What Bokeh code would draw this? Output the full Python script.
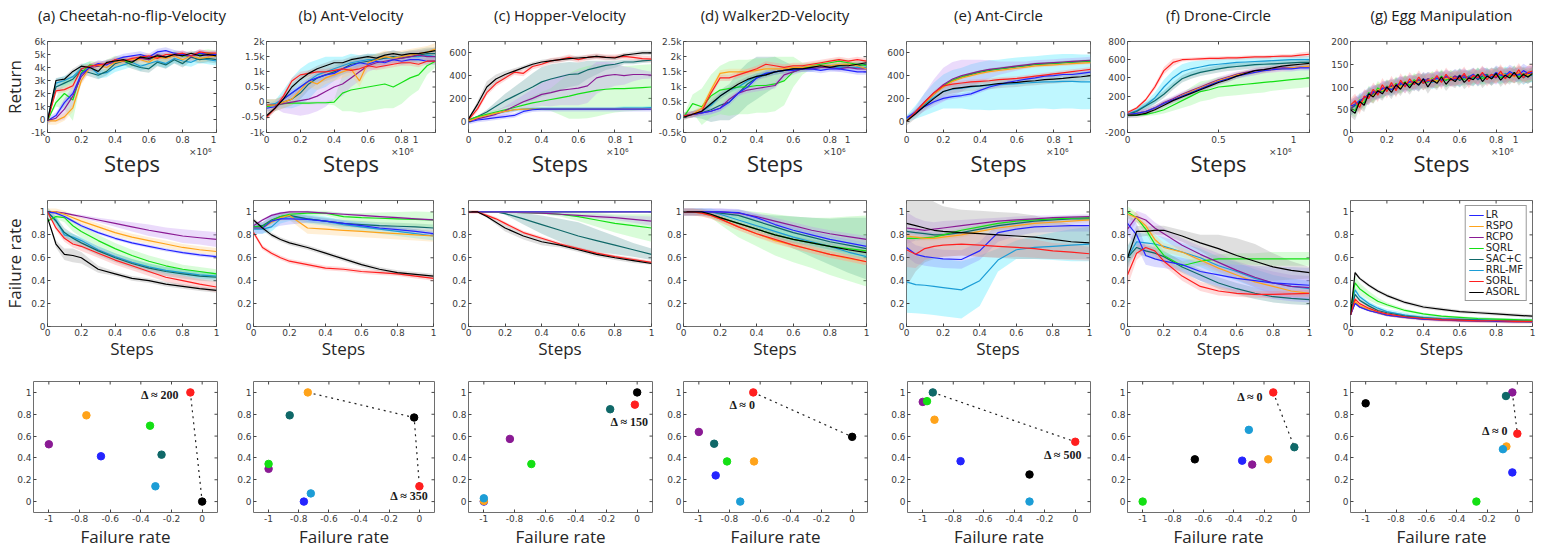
import numpy as np
from bokeh.plotting import figure
from bokeh.layouts import column, row
from bokeh.models import Range1d, FixedTicker, Label, Legend, LegendItem, LinearAxis
from bokeh.embed import file_html
from bokeh.resources import INLINE

SERIES = ["LR", "RSPO", "RCPO", "SQRL", "SAC+C", "RRL-MF", "SORL", "ASORL"]
LINE_COLORS = {"LR": "#2424ff", "RSPO": "#ffa31a", "RCPO": "#8a1a94", "SQRL": "#14e014",
               "SAC+C": "#0f6868", "RRL-MF": "#1c9dd6", "SORL": "#ff1f1f", "ASORL": "#000000"}
BAND_COLORS = {"LR": "#8c8cff", "RSPO": "#ffcc80", "RCPO": "#c28ef2", "SQRL": "#8af58a",
               "SAC+C": "#5f9f9f", "RRL-MF": "#38e6ff", "SORL": "#ff8c8c", "ASORL": "#9a9a9a"}
DRAW_ORDER = ["RRL-MF", "SAC+C", "SQRL", "RCPO", "RSPO", "LR", "SORL", "ASORL"]

TITLES = ["(a) Cheetah-no-flip-Velocity", "(b) Ant-Velocity", "(c) Hopper-Velocity",
          "(d) Walker2D-Velocity", "(e) Ant-Circle", "(f) Drone-Circle", "(g) Egg Manipulation"]

STEPS_21 = [0.0, 0.05, 0.1, 0.15, 0.2, 0.25, 0.3, 0.35, 0.4, 0.45, 0.5, 0.55, 0.6, 0.65, 0.7,
            0.75, 0.8, 0.85, 0.9, 0.95, 1.0]
STEPS_41 = [0.0, 0.025, 0.05, 0.075, 0.1, 0.125, 0.15, 0.175, 0.2, 0.225, 0.25, 0.275, 0.3,
            0.325, 0.35, 0.375, 0.4, 0.425, 0.45, 0.475, 0.5, 0.525, 0.55, 0.575, 0.6, 0.625,
            0.65, 0.675, 0.7, 0.725, 0.75, 0.775, 0.8, 0.825, 0.85, 0.875, 0.9, 0.925, 0.95,
            0.975, 1.0]
STEPS_13 = [0.0, 0.05, 0.1, 0.15, 0.2, 0.3, 0.4, 0.5, 0.6, 0.7, 0.8, 0.9, 1.0]
STEPS_14 = [0.0, 0.025, 0.05, 0.1, 0.15, 0.2, 0.3, 0.4, 0.5, 0.6, 0.7, 0.8, 0.9, 1.0]

# ---------------- Row 1: Return vs steps ----------------
RET_A = {  # thousands
    "LR":     [-0.1, 0.3, 1.3, 2.0, 3.5, 4.0, 4.3, 4.2, 4.6, 4.8, 4.9, 5.0, 4.8, 5.2, 5.3, 5.1, 5.0, 4.9, 5.1, 5.0, 5.0],
    "RSPO":   [-0.1, -0.1, 0.2, 0.9, 3.0, 4.0, 4.2, 4.0, 4.4, 4.5, 4.6, 4.6, 4.4, 4.8, 4.7, 4.9, 4.6, 4.9, 4.7, 4.8, 4.9],
    "RCPO":   [-0.1, 0.1, 0.8, 1.8, 3.3, 4.0, 4.1, 4.3, 4.4, 4.6, 4.5, 4.7, 4.6, 5.0, 4.8, 4.9, 5.0, 4.8, 5.1, 4.9, 5.0],
    "SQRL":   [-0.1, 1.3, 2.0, 1.5, 3.6, 4.2, 4.1, 4.3, 4.5, 4.5, 4.4, 4.8, 4.6, 4.9, 4.8, 5.0, 4.9, 4.9, 5.0, 5.1, 5.0],
    "SAC+C":  [-0.1, 2.5, 2.8, 3.1, 3.8, 3.6, 3.4, 3.7, 4.3, 4.5, 4.2, 4.0, 3.9, 4.4, 4.2, 4.6, 4.3, 4.8, 4.6, 4.7, 4.6],
    "RRL-MF": [-0.1, 2.8, 3.0, 3.3, 3.9, 4.1, 3.5, 3.6, 4.0, 4.2, 4.4, 4.1, 4.3, 4.5, 4.3, 4.7, 4.5, 4.4, 4.7, 4.6, 4.5],
    "SORL":   [-0.1, 2.2, 2.3, 2.6, 3.9, 4.1, 4.2, 4.3, 4.6, 4.5, 4.7, 4.8, 4.9, 4.7, 5.0, 5.0, 5.1, 4.9, 5.2, 5.1, 5.1],
    "ASORL":  [-0.1, 3.0, 3.1, 3.7, 4.1, 4.0, 3.7, 4.4, 4.5, 4.6, 4.4, 4.8, 4.7, 4.9, 4.8, 5.0, 4.9, 5.1, 4.9, 5.0, 4.9],
}
RET_B = {  # thousands
    "LR":     [-0.2, -0.15, 0.1, 0.3, 0.5, 0.7, 0.8, 0.9, 0.95, 1.1, 1.2, 1.3, 1.25, 1.35, 1.3, 1.4, 1.35, 1.4, 1.4, 1.35, 1.35],
    "RSPO":   [-0.1, -0.1, 0.0, 0.1, 0.4, 0.7, 0.6, 0.8, 0.9, 1.0, 1.1, 0.7, 1.3, 1.4, 1.5, 1.45, 1.5, 1.55, 1.6, 1.65, 1.75],
    "RCPO":   [-0.1, -0.1, -0.05, 0.0, 0.05, 0.1, 0.2, 0.35, 0.5, 0.6, 0.8, 1.0, 1.2, 1.3, 1.35, 1.4, 1.45, 1.5, 1.55, 1.5, 1.5],
    "SQRL":   [-0.15, -0.1, -0.05, -0.03, -0.03, -0.03, -0.02, -0.02, 0.0, 0.3, 0.4, 0.45, 0.5, 0.55, 0.6, 0.5, 0.65, 0.8, 0.9, 1.2, 1.35],
    "SAC+C":  [-0.1, -0.1, 0.0, 0.1, 0.3, 0.6, 0.8, 0.9, 1.0, 1.1, 1.25, 1.3, 1.35, 1.4, 1.45, 1.5, 1.45, 1.5, 1.55, 1.6, 1.6],
    "RRL-MF": [-0.1, -0.05, 0.1, 0.3, 0.5, 0.7, 0.9, 1.0, 1.1, 1.2, 1.3, 1.35, 1.4, 1.4, 1.45, 1.45, 1.5, 1.5, 1.5, 1.55, 1.5],
    "SORL":   [-0.5, -0.2, 0.2, 0.7, 0.9, 0.95, 1.0, 1.0, 1.05, 1.1, 1.05, 1.1, 1.2, 1.15, 1.2, 1.25, 1.3, 1.3, 1.25, 1.35, 1.35],
    "ASORL":  [-0.45, -0.2, 0.1, 0.5, 0.75, 0.95, 1.1, 1.2, 1.3, 1.3, 1.4, 1.45, 1.5, 1.45, 1.55, 1.6, 1.55, 1.6, 1.6, 1.65, 1.7],
}
RET_C = {
    "LR":     [-10, 10, 20, 30, 40, 50, 85, 100, 105, 105, 105, 105, 105, 105, 105, 105, 105, 105, 105, 105, 105],
    "RSPO":   [0, 30, 50, 70, 85, 100, 105, 105, 105, 105, 105, 105, 105, 105, 105, 105, 105, 105, 105, 105, 105],
    "RCPO":   [0, 20, 40, 60, 90, 130, 170, 200, 235, 250, 270, 280, 290, 310, 380, 400, 410, 400, 410, 410, 405],
    "SQRL":   [10, 40, 60, 80, 100, 120, 140, 160, 175, 190, 205, 220, 240, 255, 270, 280, 285, 285, 290, 295, 300],
    "SAC+C":  [10, 40, 80, 130, 180, 220, 260, 300, 345, 370, 390, 410, 415, 450, 470, 490, 500, 520, 520, 530, 535],
    "RRL-MF": [0, 30, 50, 70, 85, 100, 105, 110, 110, 110, 110, 110, 110, 110, 110, 110, 110, 115, 115, 115, 120],
    "SORL":   [10, 110, 250, 330, 380, 430, 420, 480, 500, 530, 540, 560, 540, 560, 570, 560, 560, 570, 560, 550, 545],
    "ASORL":  [20, 150, 300, 370, 410, 440, 470, 500, 520, 530, 540, 550, 555, 560, 570, 560, 555, 580, 590, 600, 600],
}
RET_D = {  # thousands
    "LR":     [0.05, 0.1, 0.15, 0.2, 0.3, 0.5, 0.8, 1.0, 1.3, 1.45, 1.5, 1.55, 1.55, 1.6, 1.6, 1.55, 1.6, 1.6, 1.55, 1.5, 1.5],
    "RSPO":   [0.05, 0.1, 0.3, 0.9, 1.45, 1.5, 1.5, 1.5, 1.55, 1.6, 1.6, 1.6, 1.65, 1.65, 1.7, 1.7, 1.7, 1.75, 1.75, 1.7, 1.6],
    "RCPO":   [0.05, 0.1, 0.15, 0.2, 0.3, 0.6, 0.8, 0.9, 0.95, 1.0, 1.05, 1.4, 1.5, 1.6, 1.6, 1.65, 1.65, 1.6, 1.65, 1.6, 1.6],
    "SQRL":   [0.0, 0.45, 0.35, 0.7, 0.9, 0.95, 1.0, 1.0, 1.05, 1.05, 1.1, 1.2, 1.5, 1.6, 1.7, 1.75, 1.8, 1.85, 1.8, 1.75, 1.7],
    "SAC+C":  [0.05, 0.1, 0.15, 0.25, 0.4, 0.5, 0.8, 1.1, 1.3, 1.4, 1.5, 1.55, 1.6, 1.65, 1.65, 1.7, 1.7, 1.7, 1.75, 1.7, 1.75],
    "RRL-MF": [0.05, 0.1, 0.2, 0.4, 0.7, 0.9, 1.0, 1.2, 1.35, 1.45, 1.5, 1.55, 1.6, 1.6, 1.6, 1.65, 1.65, 1.65, 1.65, 1.65, 1.65],
    "SORL":   [0.05, 0.1, 0.2, 0.8, 1.3, 1.3, 1.4, 1.5, 1.6, 1.75, 1.7, 1.65, 1.7, 1.7, 1.75, 1.8, 1.85, 1.9, 1.85, 1.9, 1.85],
    "ASORL":  [0.0, 0.1, 0.2, 0.45, 0.7, 0.9, 1.1, 1.25, 1.35, 1.4, 1.5, 1.55, 1.6, 1.6, 1.65, 1.7, 1.65, 1.7, 1.7, 1.75, 1.8],
}
RET_E = {
    "LR":     [30, 80, 130, 170, 200, 215, 225, 240, 270, 300, 320, 340, 355, 370, 380, 395, 400, 410, 410, 420, 430],
    "RSPO":   [0, 80, 160, 240, 300, 350, 380, 400, 420, 435, 445, 455, 465, 475, 485, 490, 495, 500, 505, 510, 515],
    "RCPO":   [0, 85, 170, 250, 320, 370, 400, 420, 440, 455, 465, 475, 485, 495, 505, 510, 515, 520, 525, 530, 535],
    "SQRL":   [0, 80, 165, 245, 310, 360, 390, 415, 435, 450, 460, 470, 480, 490, 500, 505, 510, 515, 520, 525, 530],
    "SAC+C":  [0, 80, 160, 240, 305, 355, 385, 410, 430, 445, 458, 468, 478, 488, 498, 503, 508, 513, 518, 523, 528],
    "RRL-MF": [20, 80, 150, 210, 260, 280, 290, 300, 310, 315, 320, 325, 330, 335, 340, 345, 345, 350, 350, 345, 345],
    "SORL":   [0, 80, 170, 250, 310, 325, 335, 345, 350, 355, 365, 370, 375, 385, 395, 405, 415, 425, 435, 445, 455],
    "ASORL":  [0, 65, 135, 200, 260, 285, 295, 305, 310, 320, 330, 335, 340, 350, 355, 365, 370, 375, 385, 390, 400],
}
RET_F = {
    "LR":     [0, 10, 30, 70, 120, 160, 200, 240, 280, 320, 360, 390, 420, 440, 460, 480, 490, 500, 500, 510, 510],
    "RSPO":   [0, 10, 30, 70, 120, 160, 210, 250, 290, 330, 370, 400, 430, 450, 460, 480, 490, 500, 510, 520, 530],
    "RCPO":   [0, 10, 30, 70, 130, 170, 220, 260, 300, 340, 380, 410, 440, 460, 480, 490, 500, 510, 510, 520, 520],
    "SQRL":   [-10, -10, 0, 20, 50, 100, 150, 200, 250, 270, 300, 310, 320, 330, 340, 350, 360, 370, 380, 390, 400],
    "SAC+C":  [0, 30, 90, 150, 220, 310, 390, 430, 460, 480, 500, 515, 525, 535, 545, 550, 555, 560, 565, 570, 570],
    "RRL-MF": [0, 40, 100, 180, 300, 400, 470, 500, 520, 540, 550, 560, 570, 575, 580, 585, 590, 595, 600, 600, 600],
    "SORL":   [20, 70, 160, 300, 480, 570, 600, 605, 610, 615, 615, 620, 620, 625, 630, 630, 635, 640, 640, 650, 660],
    "ASORL":  [-10, -10, 10, 50, 100, 150, 190, 230, 270, 310, 350, 380, 420, 450, 480, 490, 510, 530, 540, 550, 560],
}
RET_G = {
    "LR":     [58, 62, 70, 76, 84, 90, 88, 96, 100, 94, 104, 108, 102, 112, 110, 106, 118, 112, 116, 120, 114,
               124, 118, 116, 126, 120, 122, 128, 118, 130, 124, 122, 132, 126, 124, 134, 128, 126, 136, 130, 132],
    "RSPO":   [56, 64, 60, 74, 82, 80, 94, 92, 100, 98, 106, 100, 110, 108, 112, 110, 116, 114, 118, 112, 120,
               118, 122, 116, 124, 120, 122, 126, 120, 128, 122, 126, 124, 130, 126, 128, 122, 132, 128, 126, 130],
    "RCPO":   [50, 66, 62, 78, 76, 88, 86, 98, 96, 104, 100, 110, 106, 112, 108, 116, 112, 118, 114, 120, 116,
               122, 118, 124, 120, 126, 118, 124, 122, 128, 124, 126, 120, 130, 126, 128, 124, 132, 128, 130, 131],
    "SQRL":   [55, 48, 72, 65, 88, 80, 98, 90, 102, 94, 108, 100, 112, 104, 116, 108, 114, 110, 120, 112, 124,
               114, 122, 118, 126, 116, 124, 120, 128, 118, 126, 122, 130, 120, 128, 124, 132, 122, 130, 126, 128],
    "SAC+C":  [52, 60, 66, 74, 80, 86, 92, 90, 98, 102, 96, 106, 110, 104, 112, 116, 108, 118, 114, 112, 120,
               116, 118, 124, 114, 122, 120, 126, 116, 124, 128, 118, 126, 130, 120, 128, 124, 130, 126, 122, 128],
    "RRL-MF": [54, 58, 64, 72, 78, 84, 90, 94, 96, 100, 104, 102, 108, 110, 106, 114, 112, 116, 110, 118, 120,
               114, 122, 118, 116, 124, 120, 118, 126, 122, 120, 128, 124, 122, 130, 126, 124, 128, 120, 126, 125],
    "SORL":   [60, 70, 55, 80, 75, 95, 82, 105, 90, 110, 92, 115, 100, 118, 105, 122, 108, 115, 112, 125, 110,
               128, 115, 120, 118, 130, 112, 126, 120, 132, 116, 128, 122, 135, 118, 130, 124, 138, 120, 132, 135],
    "ASORL":  [50, 42, 68, 60, 85, 78, 92, 85, 100, 88, 105, 95, 110, 98, 112, 104, 118, 100, 115, 108, 122,
               106, 118, 112, 125, 110, 120, 116, 128, 112, 124, 118, 130, 115, 126, 120, 132, 118, 128, 122, 130],
}

RET_SPREAD_A = {"LR": 0.25, "RSPO": 0.3,
                "RCPO": [0, 0.3, 0.8, 0.8, 0.5, 0.3, 0.3, 0.3, 0.3, 0.3, 0.3, 0.3, 0.3, 0.3, 0.3, 0.3, 0.3, 0.3, 0.3, 0.3, 0.3],
                "SQRL": [0, 0.3, 1.2, 1.6, 0.6, 0.3, 0.3, 0.3, 0.4, 0.3, 0.3, 0.3, 0.3, 0.3, 0.3, 0.3, 0.3, 0.3, 0.3, 0.3, 0.3],
                "SAC+C": 0.3, "RRL-MF": 0.35, "SORL": 0.2, "ASORL": 0.2}
RET_SPREAD_B = {"LR": 0.12, "RSPO": 0.2,
                "RCPO": [0.05, 0.1, 0.3, 0.4, 0.5, 0.5, 0.5, 0.5, 0.4, 0.4, 0.3, 0.3, 0.2, 0.2, 0.2, 0.15, 0.15, 0.15, 0.15, 0.15, 0.15],
                "SQRL": [0.05, 0.05, 0.05, 0.05, 0.05, 0.05, 0.05, 0.05, 0.1, 0.6, 0.7, 0.8, 0.8, 0.8, 0.8, 0.7, 0.7, 0.6, 0.5, 0.3, 0.2],
                "SAC+C": 0.2,
                "RRL-MF": [0.05, 0.1, 0.3, 0.5, 0.6, 0.6, 0.5, 0.5, 0.4, 0.3, 0.3, 0.2, 0.2, 0.2, 0.15, 0.15, 0.15, 0.15, 0.15, 0.15, 0.15],
                "SORL": 0.1, "ASORL": 0.1}
RET_SPREAD_C = {"LR": 20, "RSPO": 10,
                "RCPO": [5, 10, 20, 30, 40, 50, 60, 80, 100, 120, 130, 140, 150, 150, 140, 120, 100, 80, 60, 40, 30],
                "SQRL": [5, 10, 15, 20, 25, 30, 40, 60, 80, 100, 150, 200, 220, 230, 230, 220, 210, 200, 200, 200, 200],
                "SAC+C": [5, 10, 20, 40, 60, 80, 100, 120, 130, 130, 120, 110, 100, 80, 60, 40, 30, 20, 20, 20, 20],
                "RRL-MF": 15, "SORL": 25,
                "ASORL": [5, 30, 50, 40, 30, 25, 20, 20, 20, 20, 20, 20, 20, 20, 20, 20, 20, 20, 20, 20, 20]}
RET_SPREAD_D = {"LR": 0.1, "RSPO": 0.1, "RCPO": 0.1,
                "SQRL": [0.05, 0.3, 0.6, 0.7, 0.8, 0.9, 0.9, 0.9, 0.9, 0.9, 0.9, 0.8, 0.5, 0.2, 0.1, 0.1, 0.1, 0.1, 0.1, 0.1, 0.1],
                "SAC+C": [0.05, 0.1, 0.2, 0.4, 0.5, 0.6, 0.7, 0.7, 0.7, 0.6, 0.5, 0.3, 0.1, 0.1, 0.1, 0.1, 0.1, 0.1, 0.1, 0.1, 0.1],
                "RRL-MF": 0.1, "SORL": 0.1, "ASORL": 0.1}
RET_SPREAD_E = {"LR": 20, "RSPO": 15,
                "RCPO": [10, 40, 80, 120, 150, 150, 140, 120, 100, 80, 60, 50, 40, 30, 30, 30, 30, 30, 30, 30, 30],
                "SQRL": 15, "SAC+C": 15,
                "RRL-MF": [30, 60, 100, 130, 150, 170, 180, 200, 210, 220, 220, 225, 230, 230, 230, 235, 240, 240, 240, 240, 240],
                "SORL": 20, "ASORL": 40}
RET_SPREAD_F = {"LR": 30, "RSPO": 30, "RCPO": 30,
                "SQRL": [10, 10, 20, 30, 40, 60, 80, 100, 110, 110, 110, 110, 110, 110, 110, 110, 100, 100, 100, 100, 100],
                "SAC+C": 40,
                "RRL-MF": [10, 20, 40, 60, 80, 80, 80, 80, 70, 60, 60, 50, 50, 50, 50, 50, 50, 40, 40, 40, 40],
                "SORL": [10, 15, 20, 30, 40, 40, 20, 20, 20, 20, 20, 20, 20, 20, 20, 20, 20, 20, 20, 30, 30],
                "ASORL": 30}
RET_SPREAD_G = {"LR": 15, "RSPO": 15, "RCPO": 15, "SQRL": 15, "SAC+C": 15, "RRL-MF": 15, "SORL": 15, "ASORL": 15}

RET_DATA = [RET_A, RET_B, RET_C, RET_D, RET_E, RET_F, RET_G]
RET_SPREADS = [RET_SPREAD_A, RET_SPREAD_B, RET_SPREAD_C, RET_SPREAD_D, RET_SPREAD_E, RET_SPREAD_F, RET_SPREAD_G]
RET_STEPS = [STEPS_21, STEPS_21, STEPS_21, STEPS_21, STEPS_21, STEPS_21, STEPS_41]
RET_YRANGE = [(-1, 6), (-1, 2), (-100, 700), (-0.5, 2.5), (-100, 700), (-200, 800), (0, 200)]
RET_YTICKS = [[-1, 0, 1, 2, 3, 4, 5, 6], [-1, -0.5, 0, 0.5, 1, 1.5, 2], [0, 200, 400, 600],
              [-0.5, 0, 0.5, 1, 1.5, 2, 2.5], [0, 200, 400, 600], [-200, 0, 200, 400, 600, 800],
              [0, 50, 100, 150, 200]]
RET_YLABELS = [["-1k", "0", "1k", "2k", "3k", "4k", "5k", "6k"],
               ["-1k", "-0.5k", "0", "0.5k", "1k", "1.5k", "2k"],
               ["0", "200", "400", "600"],
               ["-0.5k", "0", "0.5k", "1k", "1.5k", "2k", "2.5k"],
               ["0", "200", "400", "600"],
               ["-200", "0", "200", "400", "600", "800"],
               ["0", "50", "100", "150", "200"]]
STEP_SCALE = "×10⁶"
STEP_TICKS = [0, 0.2, 0.4, 0.6, 0.8, 1]
STEP_LABELS = ["0", "0.2", "0.4", "0.6", "0.8", "1"]
HALF_TICKS = [0, 0.5, 1]
HALF_LABELS = ["0", "0.5", "1"]

# ---------------- Row 2: Failure rate vs steps ----------------
FR_A = {
    "LR":     [1.0, 0.99, 0.96, 0.92, 0.88, 0.82, 0.77, 0.73, 0.70, 0.67, 0.645, 0.625, 0.61],
    "RSPO":   [1.0, 1.0, 0.98, 0.95, 0.92, 0.87, 0.82, 0.78, 0.75, 0.72, 0.69, 0.67, 0.655],
    "RCPO":   [1.0, 1.0, 0.99, 0.975, 0.96, 0.93, 0.90, 0.87, 0.84, 0.815, 0.79, 0.775, 0.76],
    "SQRL":   [0.92, 0.96, 0.95, 0.88, 0.83, 0.75, 0.68, 0.62, 0.57, 0.53, 0.50, 0.48, 0.46],
    "SAC+C":  [1.0, 0.92, 0.82, 0.77, 0.73, 0.66, 0.60, 0.55, 0.51, 0.48, 0.46, 0.44, 0.43],
    "RRL-MF": [1.0, 0.93, 0.80, 0.78, 0.75, 0.67, 0.61, 0.56, 0.52, 0.49, 0.47, 0.45, 0.44],
    "SORL":   [1.0, 0.86, 0.77, 0.72, 0.70, 0.64, 0.58, 0.53, 0.48, 0.43, 0.40, 0.37, 0.345],
    "ASORL":  [0.95, 0.72, 0.63, 0.62, 0.60, 0.50, 0.46, 0.42, 0.40, 0.37, 0.35, 0.33, 0.315],
}
FR_B = {
    "LR":     [0.86, 0.86, 0.92, 0.94, 0.94, 0.935, 0.92, 0.90, 0.88, 0.86, 0.845, 0.83, 0.81],
    "RSPO":   [0.86, 0.86, 0.91, 0.95, 0.97, 0.86, 0.85, 0.84, 0.83, 0.82, 0.81, 0.80, 0.79],
    "RCPO":   [0.88, 0.93, 0.97, 0.99, 1.0, 1.0, 0.99, 0.98, 0.97, 0.96, 0.95, 0.94, 0.93],
    "SQRL":   [0.87, 0.87, 0.92, 0.96, 0.98, 0.99, 0.99, 0.96, 0.95, 0.945, 0.94, 0.935, 0.93],
    "SAC+C":  [0.87, 0.88, 0.93, 0.96, 0.97, 0.94, 0.92, 0.90, 0.89, 0.88, 0.875, 0.87, 0.86],
    "RRL-MF": [0.85, 0.85, 0.87, 0.94, 0.96, 0.94, 0.92, 0.89, 0.87, 0.85, 0.83, 0.81, 0.79],
    "SORL":   [0.82, 0.69, 0.64, 0.60, 0.57, 0.54, 0.51, 0.50, 0.48, 0.47, 0.46, 0.44, 0.42],
    "ASORL":  [0.93, 0.86, 0.80, 0.76, 0.73, 0.69, 0.64, 0.59, 0.54, 0.50, 0.47, 0.455, 0.44],
}
FR_C = {
    "LR":     [1.0, 1.0, 1.0, 1.0, 1.0, 1.0, 1.0, 1.0, 1.0, 1.0, 1.0, 1.0, 1.0],
    "RSPO":   [1.0, 1.0, 1.0, 1.0, 1.0, 1.0, 1.0, 1.0, 1.0, 1.0, 1.0, 1.0, 1.0],
    "RCPO":   [1.0, 1.0, 1.0, 1.0, 1.0, 0.995, 0.99, 0.98, 0.97, 0.96, 0.95, 0.935, 0.92],
    "SQRL":   [1.0, 1.0, 1.0, 1.0, 1.0, 0.995, 0.99, 0.98, 0.96, 0.93, 0.90, 0.88, 0.86],
    "SAC+C":  [1.0, 1.0, 1.0, 1.0, 0.985, 0.94, 0.89, 0.84, 0.79, 0.75, 0.71, 0.67, 0.63],
    "RRL-MF": [1.0, 1.0, 1.0, 1.0, 1.0, 1.0, 1.0, 1.0, 1.0, 1.0, 1.0, 1.0, 1.0],
    "SORL":   [1.0, 1.0, 0.97, 0.94, 0.90, 0.82, 0.77, 0.72, 0.68, 0.64, 0.61, 0.585, 0.56],
    "ASORL":  [1.0, 1.0, 0.96, 0.91, 0.86, 0.79, 0.74, 0.71, 0.67, 0.63, 0.60, 0.575, 0.55],
}
FR_D = {
    "LR":     [1.0, 1.0, 1.0, 1.0, 1.0, 0.995, 0.95, 0.89, 0.84, 0.80, 0.76, 0.73, 0.70],
    "RSPO":   [1.0, 1.0, 0.99, 0.97, 0.94, 0.87, 0.81, 0.75, 0.71, 0.67, 0.63, 0.595, 0.565],
    "RCPO":   [1.0, 1.0, 1.0, 1.0, 1.0, 0.99, 0.96, 0.92, 0.88, 0.84, 0.81, 0.785, 0.76],
    "SQRL":   [1.0, 1.0, 1.0, 0.98, 0.95, 0.90, 0.85, 0.80, 0.76, 0.73, 0.70, 0.68, 0.66],
    "SAC+C":  [1.0, 1.0, 1.0, 1.0, 0.99, 0.97, 0.92, 0.87, 0.82, 0.78, 0.74, 0.71, 0.68],
    "RRL-MF": [1.0, 1.0, 1.0, 1.0, 0.98, 0.93, 0.88, 0.83, 0.78, 0.74, 0.70, 0.65, 0.61],
    "SORL":   [1.0, 1.0, 0.99, 0.97, 0.94, 0.87, 0.81, 0.76, 0.71, 0.67, 0.63, 0.60, 0.565],
    "ASORL":  [1.0, 1.0, 1.0, 0.98, 0.95, 0.90, 0.85, 0.80, 0.76, 0.73, 0.70, 0.67, 0.645],
}
FR_E = {
    "LR":     [0.69, 0.63, 0.61, 0.60, 0.59, 0.585, 0.66, 0.82, 0.85, 0.87, 0.875, 0.88, 0.88],
    "RSPO":   [0.79, 0.78, 0.77, 0.77, 0.78, 0.80, 0.83, 0.86, 0.88, 0.90, 0.91, 0.92, 0.93],
    "RCPO":   [0.86, 0.85, 0.84, 0.85, 0.86, 0.88, 0.90, 0.92, 0.93, 0.94, 0.95, 0.955, 0.96],
    "SQRL":   [0.77, 0.77, 0.775, 0.78, 0.80, 0.84, 0.87, 0.90, 0.92, 0.93, 0.94, 0.945, 0.95],
    "SAC+C":  [0.83, 0.82, 0.81, 0.80, 0.80, 0.82, 0.85, 0.88, 0.90, 0.92, 0.93, 0.94, 0.94],
    "RRL-MF": [0.39, 0.365, 0.36, 0.35, 0.34, 0.32, 0.40, 0.58, 0.67, 0.69, 0.70, 0.71, 0.72],
    "SORL":   [0.67, 0.63, 0.68, 0.70, 0.71, 0.72, 0.71, 0.70, 0.69, 0.68, 0.66, 0.65, 0.635],
    "ASORL":  [0.90, 0.88, 0.86, 0.84, 0.83, 0.82, 0.81, 0.80, 0.79, 0.78, 0.76, 0.74, 0.73],
}
FR_F = {
    "LR":     [0.90, 0.80, 0.62, 0.59, 0.57, 0.54, 0.48, 0.45, 0.42, 0.40, 0.38, 0.37, 0.36],
    "RSPO":   [0.98, 0.95, 0.88, 0.76, 0.69, 0.65, 0.58, 0.51, 0.45, 0.39, 0.35, 0.31, 0.29],
    "RCPO":   [0.85, 0.96, 0.93, 0.86, 0.81, 0.71, 0.63, 0.56, 0.49, 0.43, 0.38, 0.35, 0.34],
    "SQRL":   [1.0, 0.95, 0.85, 0.72, 0.62, 0.53, 0.57, 0.59, 0.59, 0.59, 0.59, 0.59, 0.59],
    "SAC+C":  [0.60, 0.69, 0.66, 0.64, 0.61, 0.52, 0.45, 0.38, 0.33, 0.29, 0.26, 0.245, 0.235],
    "RRL-MF": [0.60, 0.74, 0.73, 0.72, 0.70, 0.65, 0.60, 0.53, 0.48, 0.42, 0.38, 0.35, 0.33],
    "SORL":   [0.45, 0.64, 0.69, 0.66, 0.57, 0.44, 0.35, 0.31, 0.29, 0.28, 0.28, 0.285, 0.29],
    "ASORL":  [0.60, 0.83, 0.83, 0.84, 0.84, 0.79, 0.73, 0.68, 0.62, 0.57, 0.52, 0.49, 0.47],
}
FR_G = {
    "LR":     [0.10, 0.20, 0.17, 0.14, 0.12, 0.10, 0.08, 0.065, 0.06, 0.05, 0.05, 0.045, 0.045, 0.04],
    "RSPO":   [0.10, 0.22, 0.18, 0.15, 0.12, 0.10, 0.08, 0.07, 0.06, 0.05, 0.05, 0.045, 0.045, 0.04],
    "RCPO":   [0.10, 0.21, 0.17, 0.14, 0.12, 0.10, 0.08, 0.065, 0.055, 0.05, 0.045, 0.045, 0.04, 0.04],
    "SQRL":   [0.15, 0.38, 0.33, 0.27, 0.22, 0.19, 0.14, 0.11, 0.09, 0.08, 0.07, 0.065, 0.06, 0.055],
    "SAC+C":  [0.10, 0.28, 0.23, 0.18, 0.14, 0.12, 0.09, 0.075, 0.065, 0.06, 0.055, 0.05, 0.05, 0.045],
    "RRL-MF": [0.10, 0.32, 0.26, 0.20, 0.16, 0.13, 0.10, 0.08, 0.07, 0.065, 0.06, 0.055, 0.05, 0.05],
    "SORL":   [0.10, 0.24, 0.20, 0.16, 0.13, 0.11, 0.085, 0.07, 0.06, 0.055, 0.05, 0.05, 0.045, 0.045],
    "ASORL":  [0.10, 0.47, 0.42, 0.36, 0.31, 0.27, 0.21, 0.17, 0.15, 0.13, 0.12, 0.11, 0.10, 0.09],
}

FR_SPREAD_A = {"LR": 0.015, "RSPO": 0.03,
               "RCPO": [0, 0, 0.005, 0.01, 0.015, 0.02, 0.03, 0.04, 0.05, 0.05, 0.06, 0.06, 0.065],
               "SQRL": [0, 0.02, 0.04, 0.05, 0.05, 0.05, 0.05, 0.05, 0.05, 0.05, 0.04, 0.04, 0.04],
               "SAC+C": 0.04, "RRL-MF": 0.03,
               "SORL": [0, 0.02, 0.03, 0.03, 0.04, 0.04, 0.04, 0.04, 0.04, 0.04, 0.045, 0.045, 0.045],
               "ASORL": [0, 0.03, 0.05, 0.06, 0.05, 0.03, 0.02, 0.02, 0.02, 0.02, 0.02, 0.02, 0.02]}
FR_SPREAD_B = {"LR": [0.05, 0.05, 0.06, 0.06, 0.05, 0.03, 0.02, 0.02, 0.02, 0.02, 0.02, 0.02, 0.02],
               "RSPO": [0, 0, 0.02, 0.03, 0.04, 0.05, 0.05, 0.05, 0.05, 0.05, 0.05, 0.05, 0.05],
               "RCPO": 0.01,
               "SQRL": [0.02, 0.02, 0.02, 0.02, 0.02, 0.02, 0.02, 0.03, 0.04, 0.05, 0.06, 0.07, 0.07],
               "SAC+C": 0.03, "RRL-MF": 0.04, "SORL": 0.02, "ASORL": 0.02}
FR_SPREAD_C = {"LR": 0, "RSPO": 0,
               "RCPO": [0, 0, 0, 0, 0, 0, 0, 0.01, 0.01, 0.02, 0.02, 0.03, 0.04],
               "SQRL": [0, 0, 0, 0, 0, 0, 0.01, 0.02, 0.04, 0.06, 0.08, 0.10, 0.12],
               "SAC+C": [0, 0, 0, 0, 0.01, 0.05, 0.08, 0.10, 0.12, 0.10, 0.08, 0.06, 0.05],
               "RRL-MF": 0, "SORL": 0.015,
               "ASORL": [0, 0, 0.01, 0.02, 0.03, 0.03, 0.03, 0.02, 0.02, 0.02, 0.02, 0.02, 0.01]}
FR_SPREAD_D = {"LR": 0.03, "RSPO": 0.03, "RCPO": 0.03,
               "SQRL": [0, 0, 0.01, 0.03, 0.06, 0.12, 0.15, 0.18, 0.20, 0.22, 0.25, 0.28, 0.31],
               "SAC+C": [0, 0, 0, 0, 0.01, 0.03, 0.06, 0.10, 0.14, 0.17, 0.20, 0.24, 0.27],
               "RRL-MF": 0.03, "SORL": 0.03, "ASORL": 0.03}
FR_SPREAD_E = {"LR": [0.08, 0.08, 0.08, 0.08, 0.08, 0.08, 0.08, 0.08, 0.06, 0.05, 0.05, 0.05, 0.05],
               "RSPO": 0.02,
               "RCPO": [0.14, 0.10, 0.08, 0.06, 0.06, 0.05, 0.04, 0.03, 0.03, 0.03, 0.02, 0.02, 0.02],
               "SQRL": 0.02, "SAC+C": 0.02,
               "RRL-MF": [0.27, 0.25, 0.25, 0.25, 0.25, 0.25, 0.22, 0.10, 0.08, 0.10, 0.12, 0.14, 0.15],
               "SORL": [0.15, 0.12, 0.10, 0.10, 0.10, 0.10, 0.10, 0.10, 0.08, 0.08, 0.07, 0.07, 0.06],
               "ASORL": [0.55, 0.40, 0.30, 0.25, 0.22, 0.20, 0.20, 0.20, 0.20, 0.19, 0.17, 0.15, 0.14]}
FR_SPREAD_F = {"LR": [0.10, 0.10, 0.08, 0.07, 0.06, 0.06, 0.08, 0.10, 0.12, 0.13, 0.14, 0.15, 0.15],
               "RSPO": 0.04,
               "RCPO": [0.05, 0.05, 0.05, 0.05, 0.05, 0.06, 0.07, 0.08, 0.08, 0.09, 0.10, 0.10, 0.10],
               "SQRL": [0.05, 0.04, 0.04, 0.04, 0.04, 0.04, 0.04, 0.04, 0.05, 0.05, 0.06, 0.06, 0.06],
               "SAC+C": 0.05,
               "RRL-MF": [0.10, 0.08, 0.08, 0.08, 0.08, 0.08, 0.08, 0.08, 0.08, 0.08, 0.07, 0.07, 0.07],
               "SORL": [0.10, 0.06, 0.04, 0.04, 0.04, 0.04, 0.04, 0.04, 0.03, 0.03, 0.03, 0.03, 0.03],
               "ASORL": [0.10, 0.05, 0.04, 0.04, 0.04, 0.05, 0.07, 0.12, 0.15, 0.15, 0.12, 0.08, 0.05]}
FR_SPREAD_G = {"LR": 0.01, "RSPO": 0.01, "RCPO": 0.01,
               "SQRL": [0, 0.06, 0.05, 0.04, 0.03, 0.02, 0.015, 0.01, 0.01, 0.01, 0.01, 0.01, 0.01, 0.01],
               "SAC+C": 0.015, "RRL-MF": 0.02, "SORL": 0.02, "ASORL": 0.015}

FR_DATA = [FR_A, FR_B, FR_C, FR_D, FR_E, FR_F, FR_G]
FR_SPREADS = [FR_SPREAD_A, FR_SPREAD_B, FR_SPREAD_C, FR_SPREAD_D, FR_SPREAD_E, FR_SPREAD_F, FR_SPREAD_G]
FR_STEPS = [STEPS_13, STEPS_13, STEPS_13, STEPS_13, STEPS_13, STEPS_13, STEPS_14]
UNIT_TICKS = [0, 0.2, 0.4, 0.6, 0.8, 1]
UNIT_LABELS = ["0", "0.2", "0.4", "0.6", "0.8", "1"]

# ---------------- Row 3: normalized return vs (negative) failure rate ----------------
PT_A = {"LR": (-0.66, 0.415), "RSPO": (-0.755, 0.79), "RCPO": (-1.0, 0.525), "SQRL": (-0.34, 0.695),
        "SAC+C": (-0.265, 0.43), "RRL-MF": (-0.305, 0.14), "SORL": (-0.077, 1.0), "ASORL": (0.0, 0.0)}
PT_B = {"LR": (-0.766, 0.0), "RSPO": (-0.74, 1.0), "RCPO": (-1.0, 0.30), "SQRL": (-1.0, 0.345),
        "SAC+C": (-0.86, 0.79), "RRL-MF": (-0.72, 0.075), "SORL": (0.0, 0.14), "ASORL": (-0.035, 0.77)}
PT_C = {"LR": (-1.0, 0.0), "RSPO": (-1.0, 0.005), "RCPO": (-0.83, 0.574), "SQRL": (-0.69, 0.344),
        "SAC+C": (-0.176, 0.846), "RRL-MF": (-1.0, 0.03), "SORL": (-0.015, 0.888), "ASORL": (0.0, 1.0)}
PT_D = {"LR": (-0.89, 0.24), "RSPO": (-0.64, 0.368), "RCPO": (-1.0, 0.638), "SQRL": (-0.816, 0.368),
        "SAC+C": (-0.90, 0.53), "RRL-MF": (-0.73, 0.0), "SORL": (-0.645, 1.0), "ASORL": (0.0, 0.593)}
PT_E = {"LR": (-0.752, 0.37), "RSPO": (-0.923, 0.75), "RCPO": (-1.0, 0.913), "SQRL": (-0.972, 0.92),
        "SAC+C": (-0.934, 1.0), "RRL-MF": (-0.30, 0.0), "SORL": (0.0, 0.548), "ASORL": (-0.30, 0.248)}
PT_F = {"LR": (-0.344, 0.375), "RSPO": (-0.172, 0.387), "RCPO": (-0.278, 0.339), "SQRL": (-1.0, 0.0),
        "SAC+C": (0.0, 0.498), "RRL-MF": (-0.30, 0.657), "SORL": (-0.139, 1.0), "ASORL": (-0.656, 0.387)}
PT_G = {"LR": (-0.033, 0.267), "RSPO": (-0.072, 0.505), "RCPO": (-0.033, 1.0), "SQRL": (-0.27, 0.0),
        "SAC+C": (-0.075, 0.967), "RRL-MF": (-0.095, 0.48), "SORL": (0.0, 0.622), "ASORL": (-1.0, 0.90)}
PT_DATA = [PT_A, PT_B, PT_C, PT_D, PT_E, PT_F, PT_G]
PT_LINKS = [["SORL", "ASORL"], ["RSPO", "ASORL", "SORL"], [], ["SORL", "ASORL"],
            ["SAC+C", "SORL"], ["SORL", "SAC+C"], ["RCPO", "SORL"]]
PT_NOTES = [("Δ ≈ 200", -0.15, 0.98, "right"), ("Δ ≈ 350", 0.06, 0.055, "right"),
            ("Δ ≈ 150", 0.075, 0.73, "right"), ("Δ ≈ 0", -0.80, 0.885, "left"),
            ("Δ ≈ 500", 0.045, 0.43, "right"), ("Δ ≈ 0", -0.205, 0.955, "right"),
            ("Δ ≈ 0", -0.06, 0.646, "right")]
FAIL_TICKS = [-1, -0.8, -0.6, -0.4, -0.2, 0]
FAIL_LABELS = ["-1", "-0.8", "-0.6", "-0.4", "-0.2", "0"]

# ---------------- layout (page pixel positions; the bokeh page has no body margin) ----------------
ROW1_EDGES = [0, 238, 440, 655, 872, 1095, 1318, 1540]
ROW1_FRAMES = [(41, 216), (263, 435), (468, 651), (683, 866), (906, 1090), (1127, 1309), (1350, 1532)]
ROW1_V = (0, 180, 41, 137)
ROW2_EDGES = [0, 234, 440, 655, 872, 1095, 1318, 1540]
ROW2_FRAMES = [(42, 216), (252, 433), (468, 651), (683, 866), (906, 1089), (1127, 1309), (1350, 1532)]
ROW2_V = (180, 362, 200, 328)
ROW3_EDGES = [0, 234, 440, 655, 872, 1095, 1318, 1540]
ROW3_FRAMES = [(33, 217), (252, 434), (468, 652), (683, 867), (907, 1090), (1127, 1309), (1350, 1532)]
ROW3_V = (362, 550, 381, 513)

TICK_FONT = "DejaVu Sans"
LABEL_FONT = "Open Sans"
TEXT_COLOR = "#262626"
TICK_COLOR = "#444444"


def make_fig(edges, frames, i, vert, xr, yr):
    fig_top, fig_bot, fr_top, fr_bot = vert
    p = figure(width=edges[i + 1] - edges[i], height=fig_bot - fig_top,
               x_range=Range1d(*xr), y_range=Range1d(*yr),
               output_backend="svg", toolbar_location=None, title_location=None,
               min_border_left=frames[i][0] - edges[i], min_border_right=edges[i + 1] - frames[i][1],
               min_border_top=fr_top - fig_top, min_border_bottom=fig_bot - fr_bot)
    p.xgrid.visible = False
    p.ygrid.visible = False
    p.outline_line_color = "#6e6e6e"
    p.outline_line_width = 1
    p.background_fill_color = "white"
    p.border_fill_color = "white"
    return p


def add_title(p, text):
    # a tick-less axis above the frame carries the panel title
    ax = LinearAxis(ticker=FixedTicker(ticks=[]), axis_label=text, axis_label_standoff=17,
                    axis_label_text_font=LABEL_FONT, axis_label_text_font_size="15px",
                    axis_label_text_font_style="normal", axis_label_text_color="#1a1a1a",
                    axis_line_color=None, major_tick_line_color=None, minor_tick_line_color=None)
    p.add_layout(ax, "above")


def style_axes(p, xr, yr, xt, xl, yt, yl):
    xax = p.below[0]
    yax = p.left[0]
    xax.ticker = FixedTicker(ticks=xt)
    xax.major_label_overrides = {t: l for t, l in zip(xt, xl)}
    yax.ticker = FixedTicker(ticks=yt)
    yax.major_label_overrides = {t: l for t, l in zip(yt, yl)}
    for ax in (xax, yax):
        ax.major_tick_in = 3
        ax.major_tick_out = 0
        ax.minor_tick_in = 0
        ax.minor_tick_out = 0
        ax.axis_line_color = None
        ax.major_tick_line_color = TICK_COLOR
        ax.major_label_text_font = TICK_FONT
        ax.major_label_text_font_size = "9px"
        ax.major_label_text_color = "#3a3a3a"
        ax.major_label_standoff = 2
        ax.axis_label_text_font = LABEL_FONT
        ax.axis_label_text_font_style = "normal"
        ax.axis_label_text_color = TEXT_COLOR
    # inward ticks on the top and right edges (half of each dash is clipped by the frame)
    p.scatter(x=xt, y=[yr[1]] * len(xt), marker="dash", angle=np.pi / 2, size=6,
              line_color=TICK_COLOR, line_width=1)
    p.scatter(x=[xr[1]] * len(yt), y=yt, marker="dash", angle=0, size=6,
              line_color=TICK_COLOR, line_width=1)
    return xax, yax


def draw_curves(p, steps, data, spread):
    x = np.array(steps, dtype=float)
    for s in DRAW_ORDER:
        y = np.array(data[s], dtype=float)
        sp = np.broadcast_to(np.array(spread.get(s, 0), dtype=float), y.shape)
        if np.any(sp > 0):
            p.varea(x=x, y1=y - sp, y2=y + sp, fill_color=BAND_COLORS[s], fill_alpha=0.32)
    rends = {}
    for s in DRAW_ORDER:
        rends[s] = p.line(x, np.array(data[s], dtype=float), line_color=LINE_COLORS[s], line_width=1.2)
    return rends


# ---------------- Row 1 ----------------
row1 = []
for i in range(7):
    yr = RET_YRANGE[i]
    p = make_fig(ROW1_EDGES, ROW1_FRAMES, i, ROW1_V, (0, 1), yr)
    xt, xl = (HALF_TICKS, HALF_LABELS) if i == 5 else (STEP_TICKS, STEP_LABELS)
    # last tick label carries the x10^6 scale on a second (centred) line; trailing
    # en-spaces push the visible scale text left so it ends at the frame edge
    xl = xl[:-1] + [xl[-1] + "\n" + STEP_SCALE + "\u2002" * 6]
    xax, yax = style_axes(p, (0, 1), yr, xt, xl, RET_YTICKS[i], RET_YLABELS[i])
    draw_curves(p, RET_STEPS[i], RET_DATA[i], RET_SPREADS[i])
    xax.axis_label = "Steps"
    xax.axis_label_text_font_size = "22px"
    xax.axis_label_standoff = -12
    if i == 0:
        yax.axis_label = "Return"
        yax.axis_label_text_font_size = "17px"
        yax.axis_label_standoff = 2
    add_title(p, TITLES[i])
    row1.append(p)

# ---------------- Row 2 ----------------
row2 = []
for i in range(7):
    p = make_fig(ROW2_EDGES, ROW2_FRAMES, i, ROW2_V, (0, 1), (0, 1.1))
    xax, yax = style_axes(p, (0, 1), (0, 1.1), STEP_TICKS, STEP_LABELS, UNIT_TICKS, UNIT_LABELS)
    rends = draw_curves(p, FR_STEPS[i], FR_DATA[i], FR_SPREADS[i])
    xax.axis_label = "Steps"
    xax.axis_label_text_font_size = "17px"
    xax.axis_label_standoff = -2
    if i == 0:
        yax.axis_label = "Failure rate"
        yax.axis_label_text_font_size = "17px"
        yax.axis_label_standoff = 2
    if i == 6:
        items = [LegendItem(label=s, renderers=[rends[s]]) for s in SERIES]
        leg = Legend(items=items, location="top_right", border_line_color="#333333",
                     border_line_width=1, background_fill_alpha=1.0, label_text_font=TICK_FONT,
                     label_text_font_size="10px", label_text_color="#222222", glyph_width=15,
                     glyph_height=10, label_height=10, label_standoff=2, spacing=0, padding=3,
                     margin=5)
        p.add_layout(leg)
    row2.append(p)

# ---------------- Row 3 ----------------
row3 = []
for i in range(7):
    xr, yr = (-1.1, 0.1), (-0.1, 1.1)
    p = make_fig(ROW3_EDGES, ROW3_FRAMES, i, ROW3_V, xr, yr)
    xax, yax = style_axes(p, xr, yr, FAIL_TICKS, FAIL_LABELS, UNIT_TICKS, UNIT_LABELS)
    pts = PT_DATA[i]
    link = PT_LINKS[i]
    if link:
        p.line([pts[s][0] for s in link], [pts[s][1] for s in link], line_color="#222222",
               line_width=1.2, line_dash="dotted")
    for s in SERIES:
        p.scatter([pts[s][0]], [pts[s][1]], size=7.5, fill_color=LINE_COLORS[s],
                  line_color=LINE_COLORS[s])
    note, nx, ny, na = PT_NOTES[i]
    p.add_layout(Label(x=nx, y=ny, text=note, text_font="Liberation Serif", text_font_style="bold",
                       text_font_size="12px", text_color="#1a1a1a", text_align=na,
                       text_baseline="middle"))
    xax.axis_label = "Failure rate"
    xax.axis_label_text_font_size = "17px"
    xax.axis_label_standoff = 0
    row3.append(p)

layout = column(row(*row1, spacing=0), row(*row2, spacing=0), row(*row3, spacing=0), spacing=0)
open("out.html", "w").write(file_html(layout, INLINE))
